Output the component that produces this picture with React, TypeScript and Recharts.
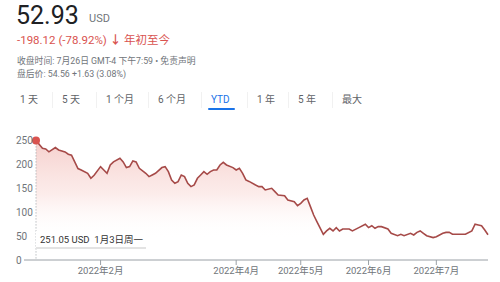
import React from 'react'
import { AreaChart, Area, XAxis, YAxis, ReferenceLine, ReferenceDot } from 'recharts'

// trading-day index since 2022-01-03, and close price (USD)
const tradingDay = [
  0, 2, 3, 4, 6, 7, 9, 10, 11, 13, 14, 16, 17, 18,
  20, 21, 22, 23, 24, 26, 27, 28, 29, 30, 31, 32, 34, 35, 36, 37,
  39, 40, 41, 42, 43, 44, 45, 46, 47, 48, 49, 50, 51, 52, 53, 54, 55, 56, 57, 58, 59, 61,
  62, 63, 64, 65, 66, 68, 69, 70, 71, 73, 74, 75, 77, 78, 80, 81,
  82, 83, 84, 85, 86, 87, 89, 90, 91, 92, 93, 94, 95, 97, 98, 100, 102,
  103, 104, 105, 106, 107, 109, 110, 112, 113, 114, 116, 117, 118, 119, 120, 121, 123,
  124, 125, 126, 127, 128, 129, 131, 133, 135, 136, 137, 138, 139, 140,
]
const closePrice = [
  251.05, 234.5, 233, 227, 236, 231, 227, 222, 220, 192, 189, 182, 171.5, 178,
  196, 189, 182, 199.5, 206, 213.5, 206, 194, 196, 208, 206, 192.5, 182, 175, 178.5, 182,
  194, 196, 185.5, 168, 161, 164.5, 178.5, 175, 161, 154, 157.5, 171.5, 178.5, 185.5, 180, 185.5, 189, 189, 199.5, 205, 199.5, 194,
  189, 192.5, 182, 168, 165, 157.5, 154, 154, 147, 150.5, 143.5, 136.5, 135, 126, 122.5, 114,
  119, 126, 129.5, 112, 94.5, 80.5, 54, 61, 66.5, 61, 68, 61, 65, 65, 61, 68, 75,
  68, 72, 66.5, 70, 70, 65, 56, 51, 54, 51, 56, 52.5, 58, 61, 56, 51, 47,
  49, 52.5, 56, 58, 58, 54, 54, 54, 61, 75, 73.5, 72, 63, 52.93,
]

const monthTicks = [20, 62, 82, 103, 124]
const monthLabels = ['2022年2月', '2022年4月', '2022年5月', '2022年6月', '2022年7月']
const priceTicks = [0, 50, 100, 150, 200, 250]
const ranges = ['1 天', '5 天', '1 个月', '6 个月', 'YTD', '1 年', '5 年', '最大']
const rangeX = [20, 62, 106, 158, 211, 257, 298, 342]

const data = tradingDay.map((d, i) => ({ d, price: closePrice[i] }))

const FONT = 'Roboto, "Noto Sans CJK SC", "Noto Sans", sans-serif'
const GREY = '#70757a'
const RED = '#d9534f'
const LINE = '#a64a48'

function PriceTick({ y, payload }: any) {
  return (
    <g>
      <text x={16} y={y} dy={3.5} fontSize={10} fill={GREY} fontFamily={FONT}>{payload.value}</text>
      {payload.value === 0 && <line x1={24} x2={36} y1={y} y2={y} stroke="#9aa0a6" />}
    </g>
  )
}

export default function App() {
  return (
    <div style={{ position: 'fixed', left: 0, top: 0, width: 500, height: 282, background: '#fff', fontFamily: FONT, overflow: 'hidden' }}>
      {/* header */}
      <div style={{ position: 'absolute', left: 16, top: 3, fontSize: 25, lineHeight: '25px', color: '#202124' }}>52.93</div>
      <div style={{ position: 'absolute', left: 89, top: 13, fontSize: 11, lineHeight: '12px', color: GREY }}>USD</div>
      <div style={{ position: 'absolute', left: 17, top: 34, fontSize: 11.5, lineHeight: '13px', color: RED, whiteSpace: 'nowrap' }}>
        -198.12 (-78.92%) <b>↓</b> 年初至今
      </div>
      <div style={{ position: 'absolute', left: 17, top: 56, fontSize: 8.8, lineHeight: '10px', color: GREY, whiteSpace: 'nowrap' }}>
        收盘时间: 7月26日 GMT-4 下午7:59 • 免责声明
      </div>
      <div style={{ position: 'absolute', left: 17, top: 69, fontSize: 8.8, lineHeight: '10px', color: GREY, whiteSpace: 'nowrap' }}>
        盘后价: 54.56 +1.63 (3.08%)
      </div>

      {/* range tabs */}
      {ranges.map((r, i) => (
        <div key={r} style={{
          position: 'absolute', left: rangeX[i], top: 94, fontSize: 10, lineHeight: '12px', whiteSpace: 'nowrap',
          color: r === 'YTD' ? '#1a73e8' : '#5f6368',
        }}>{r}</div>
      ))}
      {rangeX.slice(1).map((x, i) => (
        <div key={i} style={{ position: 'absolute', left: x - 10, top: 92, width: 1, height: 16, background: '#f1f1f1' }} />
      ))}
      <div style={{ position: 'absolute', left: 208, top: 108, width: 27, height: 2, background: '#1a73e8', borderRadius: 1 }} />

      {/* chart */}
      <div style={{ position: 'absolute', left: 0, top: 0 }}>
        <AreaChart width={500} height={282} data={data} margin={{ top: 129, right: 12, bottom: 0, left: 0 }}>
          <defs>
            <linearGradient id="ytdFill" x1="0" y1="0" x2="0" y2="1">
              <stop offset="0%" stopColor="#e47b72" stopOpacity={0.6} />
              <stop offset="45%" stopColor="#f2aca5" stopOpacity={0.38} />
              <stop offset="82%" stopColor="#ffffff" stopOpacity={0} />
            </linearGradient>
          </defs>
          <XAxis
            dataKey="d" type="number" domain={[0, 140]} ticks={monthTicks} height={22}
            tickFormatter={v => monthLabels[monthTicks.indexOf(v)]}
            stroke="#9aa0a6" tickSize={5} interval={0}
            tick={{ fontSize: 9.5, fill: GREY, fontFamily: FONT }}
          />
          <YAxis
            domain={[0, 275]} ticks={priceTicks} width={36}
            axisLine={false} tickLine={false} tick={<PriceTick />} interval={0}
          />
          <ReferenceLine segment={[{ x: 0, y: 251.05 }, { x: 0, y: 0 }]} stroke="#9aa0a6" strokeDasharray="1 2" />
          <Area
            type="linear" dataKey="price" stroke={LINE} strokeWidth={1.6}
            fill="url(#ytdFill)" dot={false} activeDot={false} isAnimationActive={false}
          />
          <ReferenceDot x={0} y={251.05} r={4} fill={RED} stroke="none" />
        </AreaChart>
      </div>

      {/* pinned tooltip */}
      <div style={{
        position: 'absolute', left: 36, top: 231, width: 110, height: 18, background: '#fff',
        borderBottom: '2px solid #e3e3e3', fontSize: 9.5, lineHeight: '18px', color: '#333', paddingLeft: 4,
        whiteSpace: 'nowrap', boxSizing: 'border-box',
      }}>
        251.05 USD&nbsp;&nbsp;1月3日周一
      </div>
    </div>
  )
}
